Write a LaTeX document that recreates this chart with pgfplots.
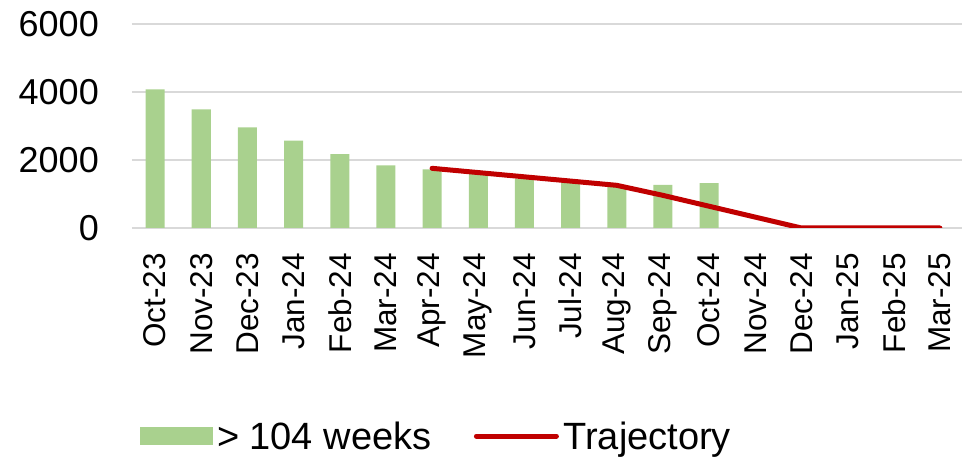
\documentclass[border=0pt]{standalone}
\usepackage{pgfplots}
\pgfplotsset{compat=1.18}
\usepackage{fontspec}
\setmainfont{Liberation Sans}
\definecolor{barg}{HTML}{A9D18E}
\definecolor{trj}{HTML}{C00000}
\definecolor{gridc}{HTML}{D9D9D9}
\begin{document}
\begin{tikzpicture}
\useasboundingbox (0,0) rectangle (962pt,462pt);
\begin{axis}[
  scale only axis,
  width=831pt, height=204pt,
  at={(132pt,234pt)}, anchor=south west,
  xmin=-0.5, xmax=17.5,
  ymin=0, ymax=6000,
  ytick={0,2000,4000,6000},
  xtick={0,...,17},
  xticklabels={Oct-23,Nov-23,Dec-23,Jan-24,Feb-24,Mar-24,Apr-24,May-24,Jun-24,Jul-24,Aug-24,Sep-24,Oct-24,Nov-24,Dec-24,Jan-25,Feb-25,Mar-25},
  axis line style={draw=none},
  major tick length=0pt,
  ymajorgrids,
  grid style={gridc, line width=1.5pt},
  scaled y ticks=false,
  /pgf/number format/1000 sep={},
  /pgf/number format/assume math mode=true,
  yticklabel style={font=\fontsize{36}{40}\selectfont, anchor=east, inner sep=0pt},
  yticklabel shift=33pt,
  xticklabel style={font=\fontsize{31.5}{34}\selectfont, rotate=90, anchor=east, inner sep=0pt},
  xticklabel shift=25pt,
  legend style={at={(0.3676,-1.02)}, anchor=center, draw=none, fill=none,
    legend columns=2, font=\fontsize{38}{40}\selectfont,
    /tikz/every even column/.append style={column sep=38pt},
    nodes={inner sep=4.5pt}},
  legend cell align=left,
]
\addplot[ybar, bar width=19pt, fill=barg, draw=none,
  legend image code/.code={\fill[barg] (0pt,-9pt) rectangle (73pt,9pt);}]
  coordinates {(0,4080) (1,3490) (2,2960) (3,2570) (4,2170) (5,1840) (6,1725) (7,1600) (8,1450) (9,1350) (10,1250) (11,1265) (12,1320)};
\addlegendentry{> 104 weeks}
\addplot[trj, line width=5pt, line cap=round, line join=round,
  legend image code/.code={\draw[trj, line width=5pt, line cap=round] (0pt,0pt) -- (80pt,0pt);}]
  coordinates {(6,1755) (7,1630) (8,1505) (9,1380) (10,1255) (11,960) (12,640) (13,320) (14,0) (15,0) (16,0) (17,0)};
\addlegendentry{Trajectory}
\end{axis}
\end{tikzpicture}
\end{document}
